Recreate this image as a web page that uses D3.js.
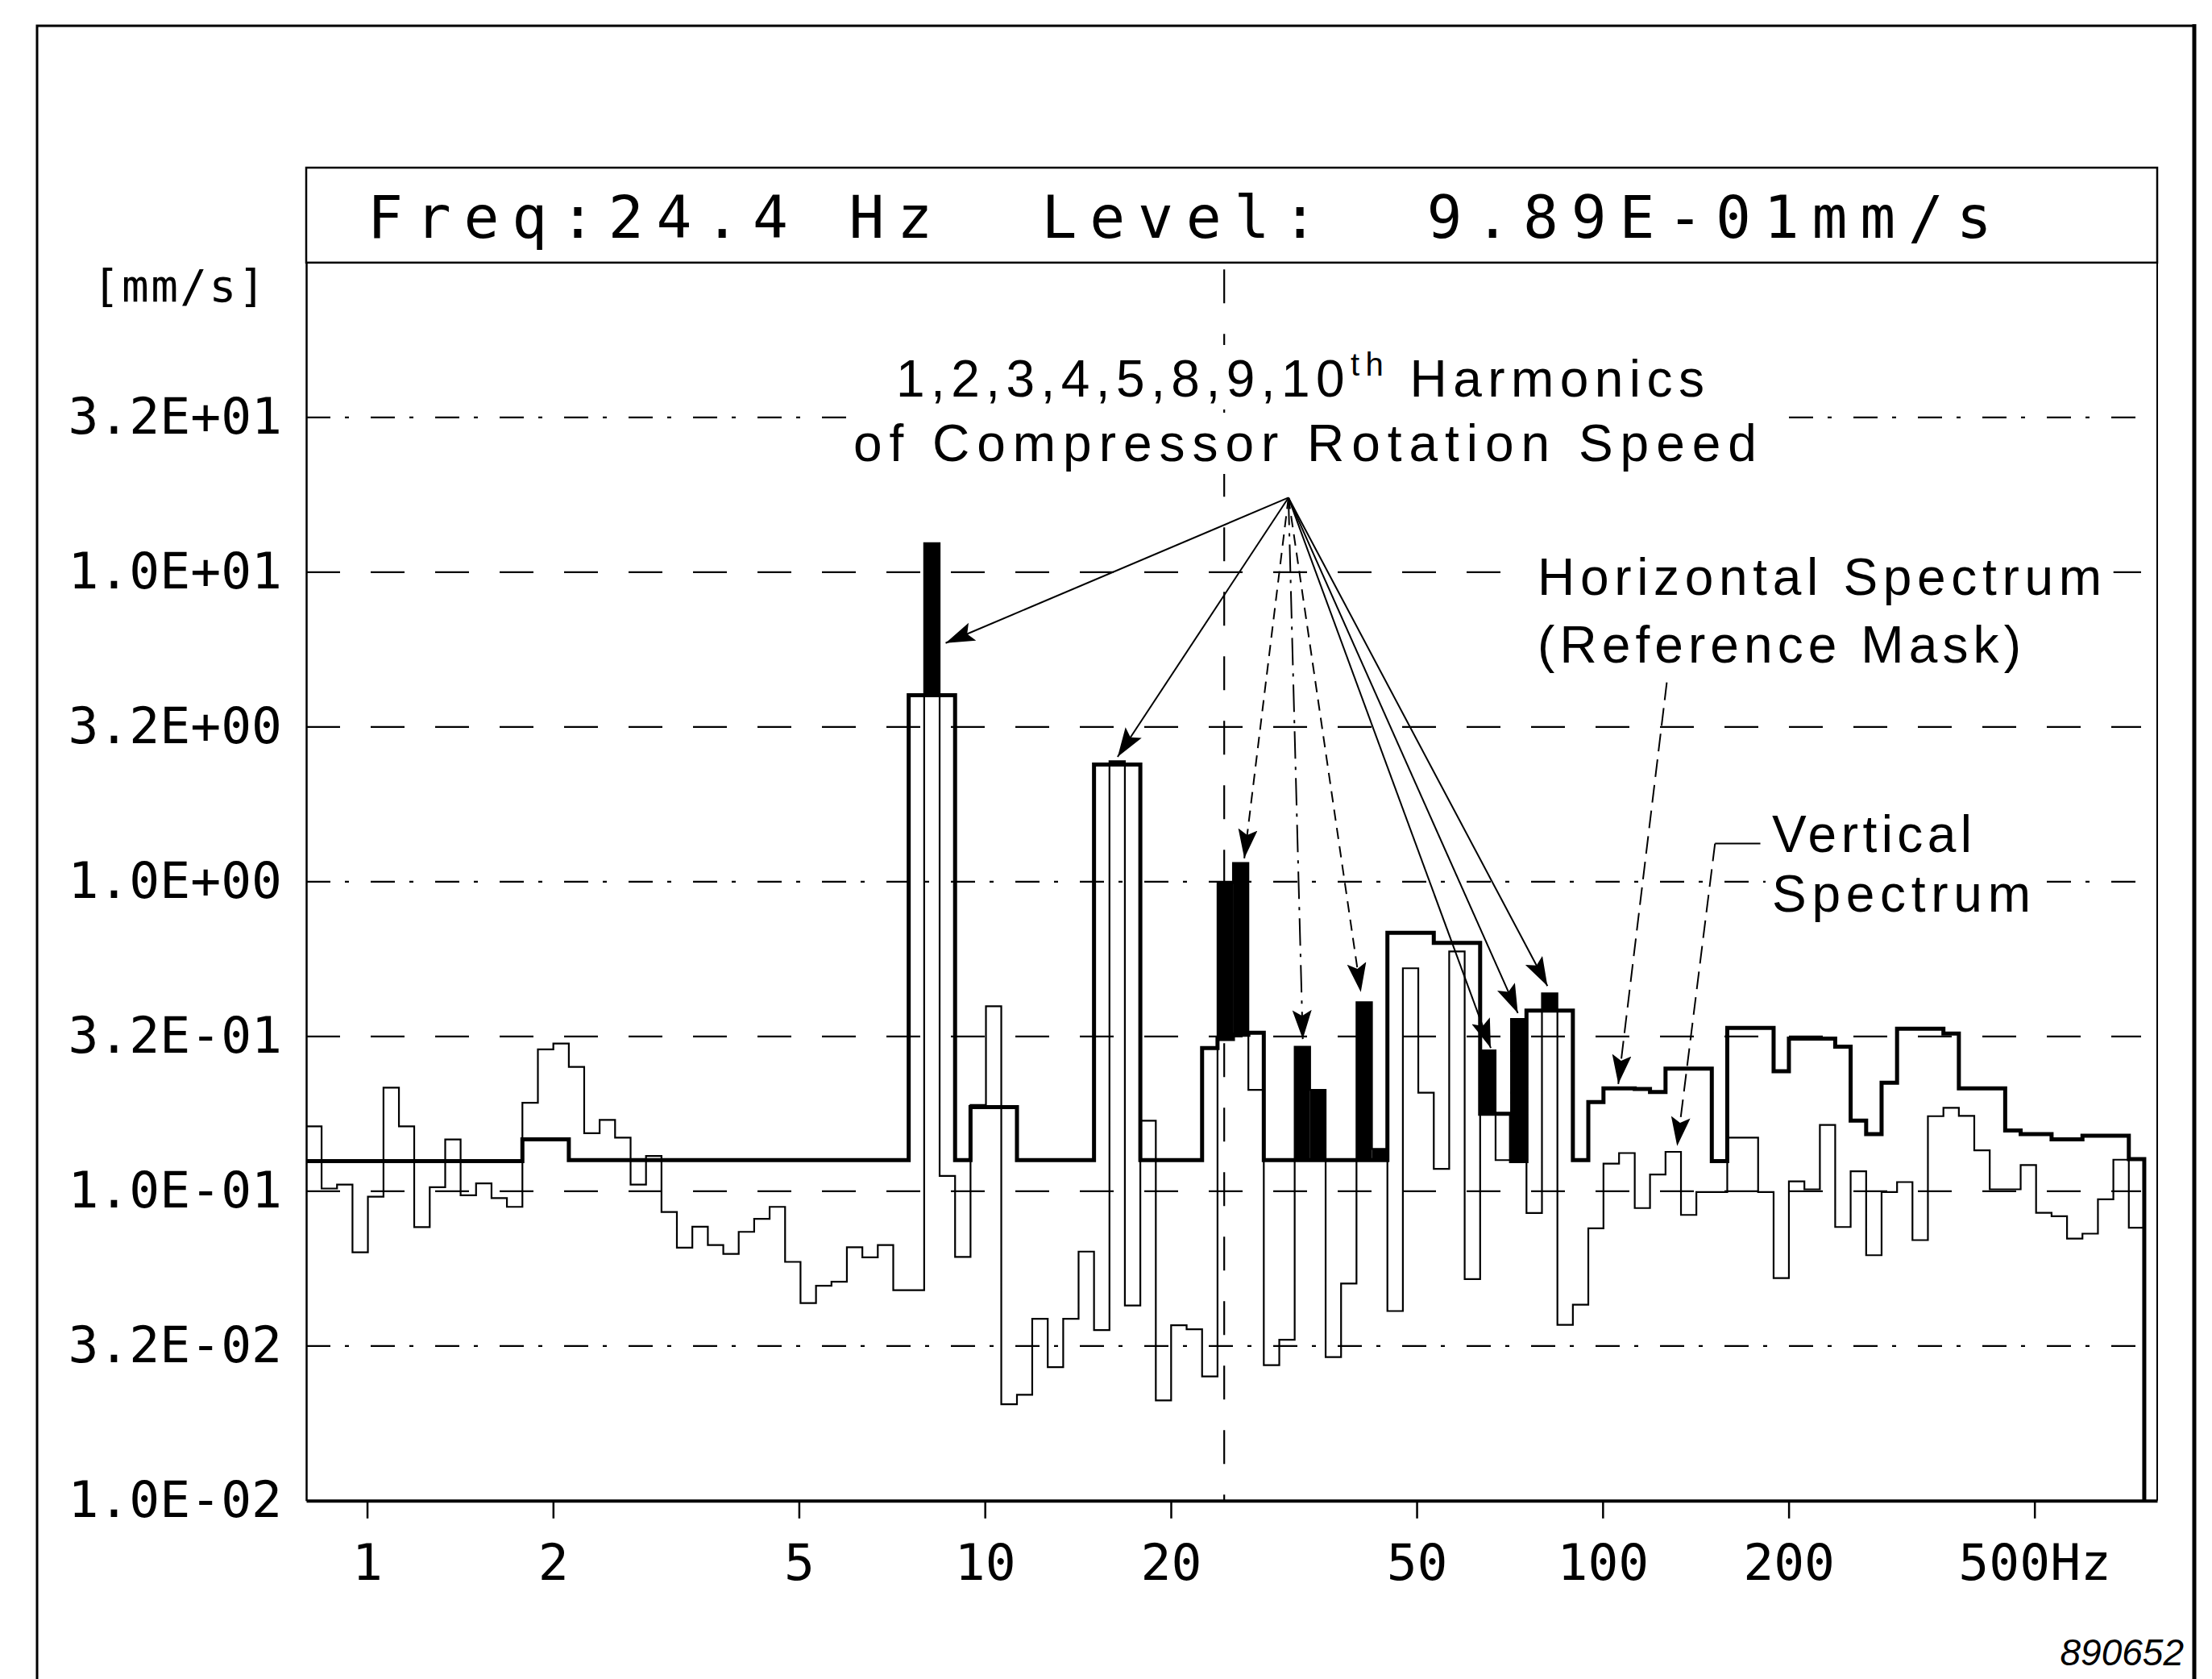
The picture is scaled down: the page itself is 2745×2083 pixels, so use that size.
<!DOCTYPE html>
<html>
<head>
<meta charset="utf-8">
<script src="https://cdn.jsdelivr.net/npm/d3@7"></script>
<style>
  body { margin: 0; background: #fff; }
  svg { display: block; }
</style>
</head>
<body>
<div id="chart"></div>
<script>
// 1/12-octave analyser bands, lower edges in Hz (last value = upper edge of last band)
var bandEdges = [
  0.797, 0.844, 0.894, 0.947, 1.003, 1.063, 1.126, 1.192, 1.263, 1.338,
  1.417, 1.501, 1.590, 1.684, 1.784, 1.890, 2.002, 2.121, 2.246, 2.379,
  2.520, 2.670, 2.828, 2.996, 3.173, 3.361, 3.561, 3.772, 3.995, 4.232,
  4.483, 4.749, 5.030, 5.329, 5.645, 5.979, 6.334, 6.709, 7.107, 7.528,
  7.975, 8.448, 8.949, 9.479, 10.04, 10.63, 11.27, 11.93, 12.64, 13.39,
  14.18, 15.02, 15.91, 16.85, 17.85, 18.91, 20.02, 21.21, 22.47, 23.80,
  25.21, 26.70, 28.28, 29.96, 31.73, 33.61, 35.61, 37.72, 39.95, 42.32,
  44.83, 47.49, 50.30, 53.29, 56.44, 59.79, 63.34, 67.09, 71.07, 75.28,
  79.75, 84.48, 89.49, 94.79, 100.3, 106.3, 112.7, 119.3, 126.4, 133.9,
  141.8, 150.2, 159.1, 168.5, 178.5, 189.1, 200.2, 212.1, 224.7, 237.9,
  252.0, 267.0, 282.8, 299.6, 317.3, 336.1, 356.1, 377.2, 399.5, 423.2,
  448.3, 474.9, 503.0, 532.9, 564.5, 597.9, 633.4, 670.9, 710.7, 752.8
];

// horizontal spectrum = reference mask [mm/s], one value per band
var horizontalMask = [
  0.125, 0.125, 0.125, 0.125, 0.125, 0.125, 0.125, 0.125, 0.125, 0.125,
  0.125, 0.125, 0.125, 0.125, 0.147, 0.147, 0.147, 0.126, 0.126, 0.126,
  0.126, 0.126, 0.126, 0.126, 0.126, 0.126, 0.126, 0.126, 0.126, 0.126,
  0.126, 0.126, 0.126, 0.126, 0.126, 0.126, 0.126, 0.126, 0.126, 4.0,
  4.0, 4.0, 0.126, 0.187, 0.187, 0.187, 0.126, 0.126, 0.126, 0.126,
  0.126, 2.39, 2.39, 2.39, 0.126, 0.126, 0.126, 0.126, 0.29, 0.31,
  0.32, 0.325, 0.126, 0.126, 0.126, 0.126, 0.126, 0.126, 0.126, 0.126,
  0.684, 0.684, 0.684, 0.634, 0.634, 0.634, 0.178, 0.178, 0.125, 0.383,
  0.383, 0.383, 0.126, 0.194, 0.215, 0.215, 0.214, 0.209, 0.249, 0.249,
  0.249, 0.125, 0.337, 0.337, 0.337, 0.244, 0.311, 0.311, 0.311, 0.293,
  0.169, 0.153, 0.224, 0.335, 0.335, 0.335, 0.323, 0.215, 0.215, 0.215,
  0.157, 0.153, 0.153, 0.147, 0.147, 0.151, 0.151, 0.151, 0.127
];

// vertical spectrum [mm/s], one value per band
var verticalLevel = [
  0.162, 0.102, 0.105, 0.0635, 0.096, 0.216, 0.162, 0.0765, 0.103, 0.147,
  0.097, 0.106, 0.095, 0.089, 0.193, 0.287, 0.300, 0.252, 0.154, 0.170,
  0.149, 0.105, 0.130, 0.0857, 0.0657, 0.0768, 0.067, 0.0627, 0.0739, 0.0814,
  0.089, 0.0591, 0.0435, 0.0495, 0.051, 0.0659, 0.0611, 0.067, 0.0479, 0.0479,
  12.4, 0.112, 0.0613, 0.19, 0.396, 0.0205, 0.022, 0.0387, 0.027, 0.0387,
  0.0638, 0.0356, 2.45, 0.0427, 0.169, 0.0211, 0.0369, 0.0358, 0.0252, 0.99,
  1.15, 0.2125, 0.0274, 0.0331, 0.293, 0.2125, 0.0291, 0.0503, 0.408, 0.137,
  0.041, 0.525, 0.208, 0.118, 0.595, 0.052, 0.285, 0.126, 0.36, 0.085,
  0.436, 0.037, 0.043, 0.0759, 0.1227, 0.1328, 0.0882, 0.1132, 0.134, 0.0838,
  0.0994, 0.0994, 0.149, 0.149, 0.0994, 0.0524, 0.1076, 0.1014, 0.1637, 0.0766,
  0.116, 0.0621, 0.0994, 0.107, 0.0695, 0.1747, 0.186, 0.175, 0.1355, 0.1014,
  0.1014, 0.1214, 0.0851, 0.083, 0.0703, 0.0729, 0.0941, 0.1264, 0.0762
];

// bands of the compressor harmonics that exceed the mask (drawn black)
var harmonicBands = [40, 52, 59, 60, 64, 65, 68, 69, 76, 78, 80];

var yTicks = [31.62, 10, 3.162, 1, 0.3162, 0.1, 0.03162, 0.01];
var yTickLabels = ["3.2E+01", "1.0E+01", "3.2E+00", "1.0E+00", "3.2E-01", "1.0E-01", "3.2E-02", "1.0E-02"];
var xTicks = [1, 2, 5, 10, 20, 50, 100, 200, 500];
var xTickLabels = ["1", "2", "5", "10", "20", "50", "100", "200", "500Hz"];

var cursorFreq = 24.4;

// annotation arrows (frequency / level of origin and tips)
var arrowOrigin = [31.0, 17.4];
var arrowTipFreq = [8.64, 16.4, 26.3, 32.7, 40.6, 65.9, 72.9, 81.4];
var arrowTipLevel = [5.9, 2.53, 1.19, 0.31, 0.44, 0.29, 0.376, 0.46];

var width = 2745, height = 2083;
var plot = {left: 380, right: 2677, top: 325.8, bottom: 1861.8};

var x = d3.scaleLog().domain([0.797, 790]).range([plot.left, plot.right]);
var y = d3.scaleLog().domain([0.01, 100]).range([plot.bottom, plot.top]);

var svg = d3.select("#chart")
  .append("svg")
    .attr("width", width)
    .attr("height", height)
    .style("background", "#fff");

var mono = "'DejaVu Sans Mono', monospace";
var sans = "'Liberation Sans', Arial, Helvetica, sans-serif";

// outer frame
svg.append("path").attr("d", "M46,2083 V32 H2723").attr("fill", "none").attr("stroke", "#000").attr("stroke-width", 3);
svg.append("line").attr("x1", 2723).attr("x2", 2723).attr("y1", 30).attr("y2", 2083).attr("stroke", "#000").attr("stroke-width", 5);

// header box
svg.append("rect")
  .attr("x", plot.left).attr("y", 208)
  .attr("width", plot.right - plot.left).attr("height", plot.top - 208)
  .attr("fill", "none").attr("stroke", "#000").attr("stroke-width", 2.5);
svg.append("text")
  .attr("x", 456).attr("y", 295)
  .attr("font-family", mono).attr("font-size", 73)
  .attr("letter-spacing", 15.8)
  .style("white-space", "pre")
  .text("Freq:24.4 Hz  Level:  9.89E-01mm/s");

// right edge of plot
svg.append("line")
  .attr("x1", plot.right).attr("x2", plot.right)
  .attr("y1", plot.top).attr("y2", plot.bottom)
  .attr("stroke", "#000").attr("stroke-width", 2);

// grid
var gridDash = ["30,18,5,27", "42,38", "42,38", "30,18,5,27", "42,38", "42,38", "30,18,5,27"];
svg.append("g").selectAll("line")
  .data(yTicks.slice(0, 7))
  .enter().append("line")
    .attr("x1", plot.left).attr("x2", plot.right - 20)
    .attr("y1", function(d) { return y(d); })
    .attr("y2", function(d) { return y(d); })
    .attr("stroke", "#000").attr("stroke-width", 2.3)
    .attr("stroke-dasharray", function(d, i) { return gridDash[i]; });

// cursor at 24.4 Hz
svg.append("line")
  .attr("x1", x(cursorFreq)).attr("x2", x(cursorFreq))
  .attr("y1", y(95)).attr("y2", plot.bottom)
  .attr("stroke", "#000").attr("stroke-width", 2.2)
  .attr("stroke-dasharray", "42,38");

// harmonic exceedances
svg.append("g").selectAll("rect")
  .data(harmonicBands)
  .enter().append("rect")
    .attr("x", function(i) { return x(bandEdges[i]); })
    .attr("width", function(i) { return x(bandEdges[i + 1]) - x(bandEdges[i]); })
    .attr("y", function(i) { return y(verticalLevel[i]); })
    .attr("height", function(i) { return y(horizontalMask[i]) - y(verticalLevel[i]); })
    .attr("fill", "#000");

var stepLine = d3.line()
  .x(function(d) { return x(d[0]); })
  .y(function(d) { return y(d[1]); })
  .curve(d3.curveStepAfter);

function stepPoints(levels) {
  var pts = levels.map(function(v, i) { return [bandEdges[i], v]; });
  var last = bandEdges[levels.length];
  pts.push([last, levels[levels.length - 1]]);
  pts.push([last, 0.01]);
  return pts;
}

svg.append("path")
  .datum(stepPoints(horizontalMask))
  .attr("fill", "none").attr("stroke", "#000").attr("stroke-width", 5)
  .attr("stroke-linejoin", "miter")
  .attr("d", stepLine);

svg.append("path")
  .datum(stepPoints(verticalLevel))
  .attr("fill", "none").attr("stroke", "#000").attr("stroke-width", 2.2)
  .attr("d", stepLine);

// axes
var yAxis = svg.append("g")
  .attr("transform", "translate(" + plot.left + ",0)")
  .call(d3.axisLeft(y).tickValues(yTicks)
    .tickFormat(function(d, i) { return yTickLabels[i]; })
    .tickSize(0).tickSizeOuter(0).tickPadding(30));
yAxis.select(".domain").attr("stroke-width", 2.5);
yAxis.selectAll("text").attr("font-family", mono).attr("font-size", 63).attr("fill", "#000");

var xAxis = svg.append("g")
  .attr("transform", "translate(0," + plot.bottom + ")")
  .call(d3.axisBottom(x).tickValues(xTicks)
    .tickFormat(function(d, i) { return xTickLabels[i]; })
    .tickSize(22).tickSizeOuter(0).tickPadding(31));
xAxis.select(".domain").attr("stroke-width", 4);
xAxis.selectAll(".tick line").attr("stroke-width", 2.5);
xAxis.selectAll("text").attr("font-family", mono).attr("font-size", 63).attr("fill", "#000");

svg.append("text")
  .attr("x", 115).attr("y", 374)
  .attr("font-family", mono).attr("font-size", 56)
  .attr("letter-spacing", 2.4)
  .text("[mm/s]");

// annotations
var notes = svg.append("g").attr("font-family", sans).attr("font-size", 64).attr("fill", "#000");

function fitText(t, w) {
  var n = t.text().length;
  var natural = t.node().getComputedTextLength();
  t.attr("letter-spacing", ((w - natural) / (n - 1)).toFixed(2));
}
function backdrop(t) {
  var b = t.node().getBBox();
  notes.insert("rect", function() { return t.node(); })
    .attr("x", b.x - 8).attr("y", b.y - 2)
    .attr("width", b.width + 16).attr("height", b.height + 4)
    .attr("fill", "#fff");
}

var harm = notes.append("text").attr("x", 1112).attr("y", 492);
harm.append("tspan").text("1,2,3,4,5,8,9,10");
harm.append("tspan").attr("font-size", 40).attr("dy", -26).text("th");
harm.append("tspan").attr("dy", 26).text(" Harmonics");
fitText(harm, 1003);

var noteSpecs = [
  ["of Compressor Rotation Speed", 1059, 572, 1121],
  ["Horizontal Spectrum", 1908, 738, 700],
  ["(Reference Mask)", 1908, 822, 600],
  ["Vertical", 2199, 1057, 248],
  ["Spectrum", 2199, 1131, 321]
];
var noteTexts = [harm];
noteSpecs.forEach(function(s) {
  var t = notes.append("text").attr("x", s[1]).attr("y", s[2]).text(s[0]);
  fitText(t, s[3]);
  noteTexts.push(t);
});
noteTexts.forEach(backdrop);

svg.append("text")
  .attr("x", 2710).attr("y", 2066)
  .attr("text-anchor", "end")
  .attr("font-family", sans).attr("font-style", "italic").attr("font-size", 46)
  .text("890652");

// arrows
var defs = svg.append("defs");
defs.append("marker")
  .attr("id", "head")
  .attr("markerUnits", "userSpaceOnUse")
  .attr("markerWidth", 38).attr("markerHeight", 26)
  .attr("refX", 36).attr("refY", 12)
  .attr("orient", "auto")
  .append("path").attr("d", "M0,0 L36,12 L0,24 L7,12 Z").attr("fill", "#000");

var arrowDash = [null, null, "14,9", "34,10,4,10", "14,9", null, null, null];
svg.append("g").selectAll("line")
  .data(arrowTipFreq)
  .enter().append("line")
    .attr("x1", x(arrowOrigin[0])).attr("y1", y(arrowOrigin[1]))
    .attr("x2", function(d) { return x(d); })
    .attr("y2", function(d, i) { return y(arrowTipLevel[i]); })
    .attr("stroke", "#000").attr("stroke-width", 2)
    .attr("stroke-dasharray", function(d, i) { return arrowDash[i]; })
    .attr("marker-end", "url(#head)");

// label arrows
svg.append("line")
  .attr("x1", x(127)).attr("y1", y(4.4))
  .attr("x2", x(106)).attr("y2", y(0.222))
  .attr("stroke", "#000").attr("stroke-width", 2)
  .attr("stroke-dasharray", "22,10")
  .attr("marker-end", "url(#head)");

svg.append("line")
  .attr("x1", x(180)).attr("y1", y(1.327))
  .attr("x2", x(152)).attr("y2", y(1.327))
  .attr("stroke", "#000").attr("stroke-width", 2);
svg.append("line")
  .attr("x1", x(152)).attr("y1", y(1.327))
  .attr("x2", x(132)).attr("y2", y(0.14))
  .attr("stroke", "#000").attr("stroke-width", 2)
  .attr("stroke-dasharray", "22,10")
  .attr("marker-end", "url(#head)");
</script>
</body>
</html>
